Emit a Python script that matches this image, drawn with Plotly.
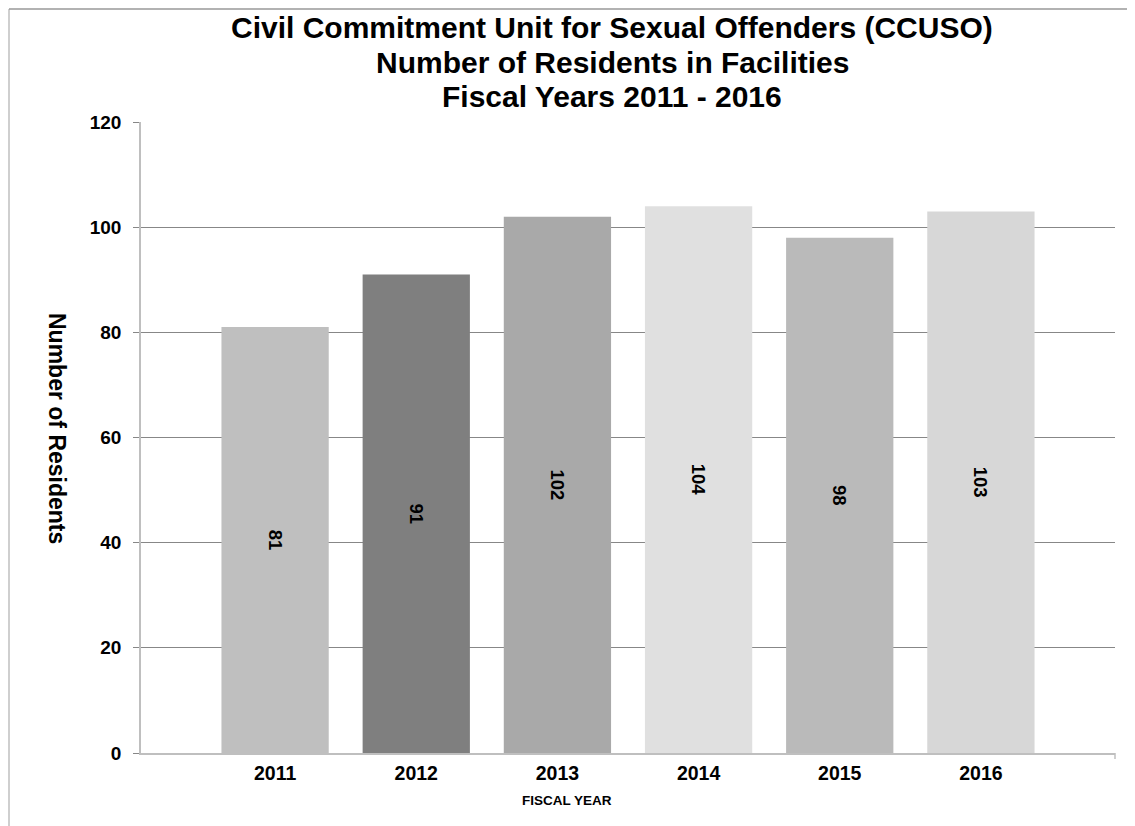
import plotly.graph_objects as go

years = ["2011", "2012", "2013", "2014", "2015", "2016"]
residents = [81, 91, 102, 104, 98, 103]
bar_colors = ["#BFBFBF", "#7F7F7F", "#A9A9A9", "#E0E0E0", "#BABABA", "#D7D7D7"]
y_ticks = [0, 20, 40, 60, 80, 100, 120]

title_lines = [
    "Civil Commitment Unit for Sexual Offenders (CCUSO)",
    "Number of Residents in Facilities",
    "Fiscal Years 2011 - 2016",
]

# page body has an 8px default margin; figure is sized to fit the window
OFF = 8
W, H = 1135 - OFF, 826 - OFF
L, R, T, B = 141 - OFF, 20, 122 - OFF, 73
pw = W - L - R
ph = H - T - B

def px_x(sx):
    # screen x -> paper x
    return (sx - OFF - L) / pw

def px_y(sy):
    # screen y -> paper y
    return (H - B - (sy - OFF)) / ph

font_b = "Liberation Sans, Arial, sans-serif"

fig = go.Figure()
fig.add_trace(go.Bar(
    x=years,
    y=residents,
    marker=dict(color=bar_colors, line=dict(width=0)),
    width=0.76,
    text=[str(v) for v in residents],
    textposition="inside",
    insidetextanchor="middle",
    textangle=90,
    textfont=dict(family=font_b, size=18.5, color="black", weight="bold"),
    constraintext="none",
    hoverinfo="x+y",
))

fig.update_layout(
    width=W, height=H,
    margin=dict(l=L, r=R, t=T, b=B, autoexpand=False),
    paper_bgcolor="white",
    plot_bgcolor="white",
    showlegend=False,
    font=dict(family=font_b, color="black"),
    xaxis=dict(
        type="category",
        range=[-0.95, 5.95],
        showgrid=False,
        showline=True,
        linecolor="#BFBFBF",
        linewidth=1.5,
        ticks="",
        ticklabelstandoff=2,
        tickfont=dict(family=font_b, size=19.5, color="black", weight="bold"),
        fixedrange=True,
    ),
    yaxis=dict(
        range=[0, 120],
        tickvals=y_ticks,
        showgrid=True,
        gridcolor="#878787",
        gridwidth=1,
        zeroline=False,
        showline=True,
        linecolor="#BFBFBF",
        linewidth=1.5,
        ticks="outside",
        ticklen=6,
        tickcolor="#878787",
        ticklabelstandoff=8,
        tickfont=dict(family=font_b, size=19, color="black", weight="bold"),
        fixedrange=True,
    ),
)

annotations = []
for line, cy in zip(title_lines, [27.5, 62.5, 96]):
    annotations.append(dict(
        text="<b>" + line + "</b>",
        x=px_x(612), y=px_y(cy), xref="paper", yref="paper",
        xanchor="center", yanchor="middle", showarrow=False,
        font=dict(family=font_b, size=30, color="black"),
    ))
annotations.append(dict(
    text="<b>Number of Residents</b>",
    x=px_x(57), y=px_y(428), xref="paper", yref="paper",
    xanchor="center", yanchor="middle", showarrow=False,
    textangle=90,
    font=dict(family=font_b, size=23, color="black"),
))
annotations.append(dict(
    text="<b>FISCAL YEAR</b>",
    x=px_x(567), y=px_y(800), xref="paper", yref="paper",
    xanchor="center", yanchor="middle", showarrow=False,
    font=dict(family="Liberation Sans Narrow, Arial Narrow, Liberation Sans, sans-serif", size=13.5, color="black"),
))
fig.update_layout(annotations=annotations)

shapes = [
    dict(type="line", xref="paper", yref="paper",
         x0=px_x(OFF + 1), x1=px_x(OFF + 1), y0=px_y(OFF + 1), y1=px_y(830),
         line=dict(color="#BFBFBF", width=1.5)),
    dict(type="line", xref="paper", yref="paper",
         x0=px_x(OFF + 1), x1=px_x(1133), y0=px_y(OFF + 1), y1=px_y(OFF + 1),
         line=dict(color="#999999", width=1.5)),
    dict(type="line", xref="paper", yref="paper",
         x0=1, x1=1, y0=0, y1=px_y(759),
         line=dict(color="#BFBFBF", width=1.5)),
]
fig.update_layout(shapes=shapes)

fig.write_html("out.html")
